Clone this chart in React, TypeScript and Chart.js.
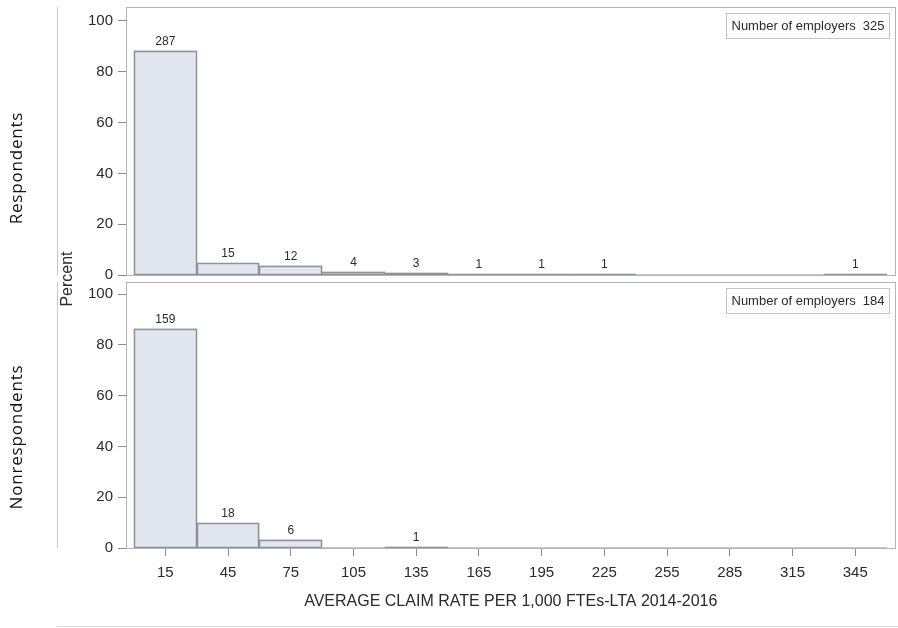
import React, { useEffect, useRef } from "react";
import { Chart, registerables } from "chart.js";

Chart.register(...registerables);

// ---- data ----
const binCenters = [15, 45, 75, 105, 135, 165, 195, 225, 255, 285, 315, 345];
const xTickValues = [15, 45, 75, 105, 135, 165, 195, 225, 255, 285, 315, 345];
const yTickValues = [0, 20, 40, 60, 80, 100];

const respondentsCounts = [287, 15, 12, 4, 3, 1, 1, 1, 0, 0, 0, 1];
const respondentsPercent = [88.3, 4.6, 3.7, 1.2, 0.9, 0.3, 0.3, 0.3, 0, 0, 0, 0.3];
const respondentsTotal = 325;

const nonrespondentsCounts = [159, 18, 6, 0, 1, 0, 0, 0, 0, 0, 0, 0];
const nonrespondentsPercent = [86.4, 9.8, 3.3, 0, 0.5, 0, 0, 0, 0, 0, 0, 0];
const nonrespondentsTotal = 184;

const rowHeaders = ["Respondents", "Nonrespondents"];
const yTitle = "Percent";
const xTitle = "AVERAGE CLAIM RATE PER 1,000 FTEs-LTA 2014-2016";
const legendLabel = "Number of employers";

// ---- styling ----
const FONT = "'Liberation Sans', Arial, Helvetica, sans-serif";
const HEADER_FONT = "'Open Sans', 'Noto Sans', sans-serif";
const BAR_FILL = "#e2e6ef";
const BAR_BORDER = "#8e9299";
const EMPTY_BIN = "#c6c8cc";
const FRAME = "#b4b4b4";
const SEP = "#c8c8c8";
const TEXT = "#2a2a2a";
const PANEL_GAP = 7;

const overlayPlugin = {
  id: "overlay",
  afterDatasetsDraw(chart: any) {
    const { ctx, chartArea, scales } = chart;
    const y1 = scales.y1;
    const y2 = scales.y2;
    const panels = [
      {
        top: y1.top,
        bottom: y1.getPixelForValue(0),
        counts: respondentsCounts,
        total: respondentsTotal,
        meta: chart.getDatasetMeta(0),
        header: rowHeaders[0],
        headerY: 168,
      },
      {
        top: y2.top + PANEL_GAP,
        bottom: y2.getPixelForValue(0),
        counts: nonrespondentsCounts,
        total: nonrespondentsTotal,
        meta: chart.getDatasetMeta(1),
        header: rowHeaders[1],
        headerY: 437,
      },
    ];

    ctx.save();
    for (const p of panels) {
      // bar outlines (from the library's bar elements)
      p.meta.data.forEach((el: any) => {
        const x0 = Math.round(el.x - el.width / 2);
        const x1 = Math.round(el.x + el.width / 2);
        const yt = Math.round(el.y);
        const yb = Math.round(el.base);
        if (yb - yt < 0.5) {
          ctx.strokeStyle = EMPTY_BIN;
          ctx.lineWidth = 1;
          ctx.beginPath();
          ctx.moveTo(x0, yb - 0.5);
          ctx.lineTo(x1, yb - 0.5);
          ctx.stroke();
        } else {
          ctx.strokeStyle = BAR_BORDER;
          ctx.lineWidth = 1.5;
          ctx.strokeRect(x0 + 0.5, yt + 0.5, x1 - x0 - 1, Math.max(yb - yt - 1, 0.5));
        }
      });

      // frame
      ctx.strokeStyle = FRAME;
      ctx.lineWidth = 1;
      const l = Math.round(chartArea.left) + 0.5;
      const r = Math.round(chartArea.right) - 0.5;
      const t = Math.round(p.top) + 0.5;
      const b = Math.round(p.bottom) + 0.5;
      ctx.strokeRect(l, t, r - l, b - t);

      // bar count labels
      ctx.fillStyle = TEXT;
      ctx.font = `12px ${FONT}`;
      ctx.textAlign = "center";
      ctx.textBaseline = "alphabetic";
      p.meta.data.forEach((el: any, i: number) => {
        const c = p.counts[i];
        if (c > 0) ctx.fillText(String(c), el.x, el.y - 6);
      });

      // legend box
      ctx.font = `13px ${FONT}`;
      const lw = ctx.measureText(legendLabel).width;
      const vw = ctx.measureText(String(p.total)).width;
      const boxW = lw + 7 + vw + 10;
      const boxH = 25;
      const bx = Math.round(chartArea.right - 7 - boxW) + 0.5;
      const by = Math.round(p.top + 6) + 0.5;
      ctx.fillStyle = "#ffffff";
      ctx.fillRect(bx, by, boxW, boxH);
      ctx.strokeStyle = "#c4c4c4";
      ctx.strokeRect(bx, by, boxW, boxH);
      ctx.fillStyle = TEXT;
      ctx.textAlign = "left";
      ctx.textBaseline = "middle";
      ctx.fillText(legendLabel, bx + 5, by + boxH / 2);
      ctx.fillText(String(p.total), bx + 5 + lw + 7, by + boxH / 2);

      // row separator line
      ctx.strokeStyle = SEP;
      ctx.beginPath();
      ctx.moveTo(57.5, Math.round(p.top));
      ctx.lineTo(57.5, Math.round(p.bottom));
      ctx.stroke();

      // row header
      ctx.save();
      ctx.translate(17, p.headerY);
      ctx.rotate(-Math.PI / 2);
      ctx.font = `17px ${HEADER_FONT}`;
      try { (ctx as any).letterSpacing = "0.8px"; } catch (e) {}
      ctx.fillStyle = "#111";
      ctx.textAlign = "center";
      ctx.textBaseline = "middle";
      ctx.fillText(p.header, 0, 0);
      ctx.restore();
    }

    // shared y title
    ctx.save();
    ctx.translate(67.5, 279);
    ctx.rotate(-Math.PI / 2);
    ctx.font = `16px ${FONT}`;
    ctx.fillStyle = TEXT;
    ctx.textAlign = "center";
    ctx.textBaseline = "middle";
    ctx.fillText(yTitle, 0, 0);
    ctx.restore();

    // x title
    ctx.font = `16px ${FONT}`;
    ctx.fillStyle = TEXT;
    ctx.textAlign = "center";
    ctx.textBaseline = "middle";
    ctx.fillText(xTitle, (chartArea.left + chartArea.right) / 2, 602);

    // bottom rule
    ctx.strokeStyle = "#dadada";
    ctx.beginPath();
    ctx.moveTo(57, 626.5);
    ctx.lineTo(898, 626.5);
    ctx.stroke();
    ctx.restore();
  },
};

const yAxisCommon = (max: number) => ({
  type: "linear" as const,
  position: "left" as const,
  stack: "panels",
  min: 0,
  max,
  grid: { display: true, drawOnChartArea: false, drawTicks: true, tickLength: 8, color: "#8a8a8a" },
  border: { display: false },
  ticks: { font: { family: FONT, size: 15 }, color: TEXT, padding: 5, autoSkip: false },
  afterBuildTicks: (axis: any) => {
    axis.ticks = yTickValues.map((v) => ({ value: v }));
  },
  afterFit: (axis: any) => {
    axis.width = 126;
    axis.paddingTop = 0;
    axis.paddingBottom = 0;
  },
});

export default function App() {
  const ref = useRef<HTMLCanvasElement>(null);

  useEffect(() => {
    const canvas = ref.current;
    if (!canvas) return;
    const barStyle = {
      backgroundColor: BAR_FILL,
      borderWidth: 0,
      grouped: false,
      barPercentage: 1,
      categoryPercentage: 1,
    };
    const chart = new Chart(canvas, {
      type: "bar",
      data: {
        datasets: [
          {
            label: rowHeaders[0],
            data: binCenters.map((c, i) => ({ x: c, y: respondentsPercent[i] })),
            xAxisID: "x",
            yAxisID: "y1",
            ...barStyle,
          },
          {
            label: rowHeaders[1],
            data: binCenters.map((c, i) => ({ x: c, y: nonrespondentsPercent[i] })),
            xAxisID: "x",
            yAxisID: "y2",
            ...barStyle,
          },
        ],
      },
      options: {
        responsive: false,
        animation: false,
        layout: { padding: { top: 7, right: 2.4, bottom: 0, left: 0 } },
        plugins: {
          legend: { display: false },
          tooltip: { enabled: false },
          title: { display: false },
        },
        scales: {
          x: {
            type: "linear",
            position: "bottom",
            min: -3.8,
            max: 364.3,
            offset: false,
            grid: {
              display: true,
              drawOnChartArea: false,
              drawTicks: true,
              tickLength: 8,
              color: "#8a8a8a",
              offset: false,
            },
            border: { display: false },
            ticks: {
              font: { family: FONT, size: 15 },
              color: TEXT,
              padding: 8,
              autoSkip: false,
              maxRotation: 0,
            },
            afterBuildTicks: (axis: any) => {
              axis.ticks = xTickValues.map((v) => ({ value: v }));
            },
            afterFit: (axis: any) => {
              axis.height = 80;
              axis.paddingLeft = 0;
              axis.paddingRight = 0;
            },
          },
          y1: { ...yAxisCommon(105.5), stackWeight: 268, weight: 2 },
          y2: { ...yAxisCommon(107.5), stackWeight: 273, weight: 1 },
        } as any,
      },
      plugins: [overlayPlugin],
    });
    return () => chart.destroy();
  }, []);

  return (
    <div style={{ position: "absolute", left: 0, top: 0, width: 898, height: 628, background: "#fff" }}>
      <canvas ref={ref} width={898} height={628} style={{ display: "block" }} />
    </div>
  );
}
